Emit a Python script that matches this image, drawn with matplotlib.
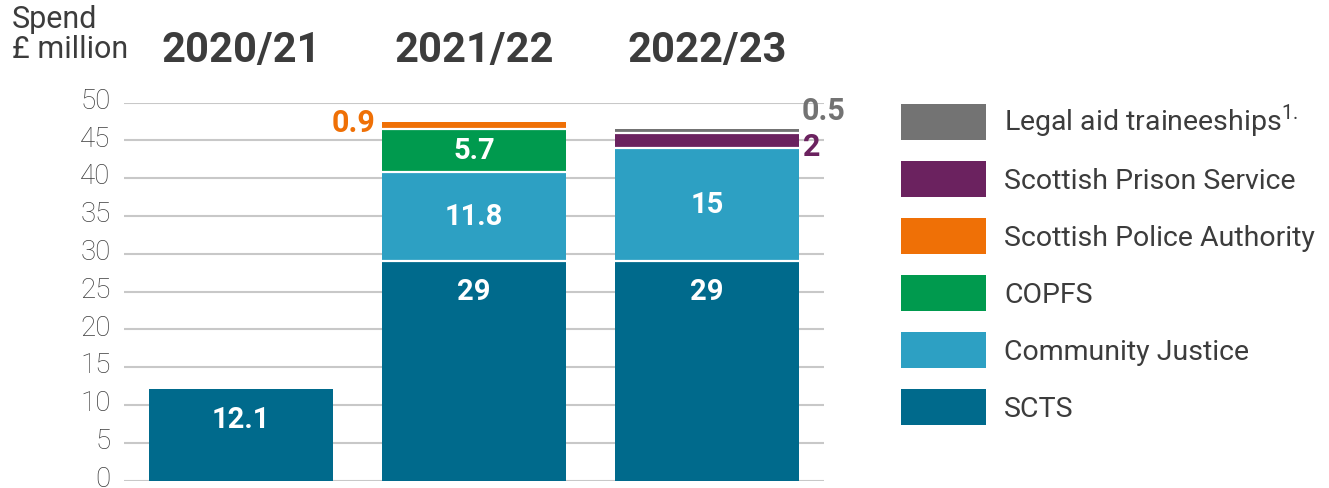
import numpy as np
import matplotlib.pyplot as plt
from matplotlib.patches import Patch
from matplotlib import transforms

# data
years = ["2020/21", "2021/22", "2022/23"]
series = ["SCTS", "Community Justice", "COPFS", "Scottish Police Authority",
          "Scottish Prison Service", "Legal aid traineeships"]
legend_labels = ["SCTS", "Community Justice", "COPFS", "Scottish Police Authority",
                 "Scottish Prison Service", r"Legal aid traineeships$^{\mathregular{1.}}$"]
scts = [12.1, 29, 29]
community_justice = [0, 11.8, 15]
copfs = [0, 5.7, 0]
police = [0, 0.9, 0]
prison = [0, 0, 2]
legal_aid = [0, 0, 0.5]
colors = ["#006a8c", "#2da0c3", "#009a4e", "#ef7006", "#6b225f", "#737373"]
yticks = [0, 5, 10, 15, 20, 25, 30, 35, 40, 45, 50]

TXT = "#3c3c3c"
plt.rcParams["font.family"] = ["Roboto", "DejaVu Sans"]

W, H = 1329, 488
fig = plt.figure(figsize=(W / 100, H / 100), dpi=100)
ax = fig.add_axes([124.5 / W, 7.5 / H, 699 / W, 378 / H])

x = np.arange(len(years))
data = [scts, community_justice, copfs, police, prison, legal_aid]
bottom = np.zeros(len(years))
tops = []
width = 0.79
for vals, col in zip(data, colors):
    vals = np.array(vals, dtype=float)
    m = vals > 0
    ax.bar(x[m], vals[m], bottom=bottom[m], width=width, color=col,
           linewidth=0, zorder=3)
    tops.append((bottom.copy(), vals.copy()))
    bottom = bottom + vals

# thin white gaps between stacked segments
for b, v in tops[1:]:
    m = v > 0
    ax.hlines(b[m], x[m] - width / 2, x[m] + width / 2, color="white",
              linewidth=1.6, zorder=4)

ax.set_xlim(-0.5, 2.5)
ax.set_ylim(0, 50)
ax.set_yticks(yticks)
ax.set_xticks([])
ax.yaxis.grid(True, color="#c8c8c8", linewidth=1.5, zorder=0)
ax.set_axisbelow(True)
for s in ax.spines.values():
    s.set_visible(False)
ax.tick_params(axis="y", length=0, pad=10, labelsize=20, labelcolor=TXT)
shift = transforms.ScaledTranslation(0, 3 / 72, fig.dpi_scale_trans)
for lbl in ax.get_yticklabels():
    lbl.set_fontweight("light")
    lbl.set_transform(lbl.get_transform() + shift)

# labels inside the bars
b0, v0 = tops[0]
for i in range(len(years)):
    ax.annotate(f"{scts[i]:g}", (x[i], b0[i] + v0[i]), xytext=(0, -22),
                textcoords="offset points", ha="center", va="center",
                color="white", fontsize=21, fontweight="bold", zorder=5)
for k in (1, 2):
    b, v = tops[k]
    for i in range(len(years)):
        if v[i] > 0:
            ax.text(x[i], b[i] + v[i] / 2, f"{v[i]:g}", ha="center", va="center",
                    color="white", fontsize=21, fontweight="bold", zorder=5)

# small segments labelled outside
b, v = tops[3]
ax.annotate(f"{v[1]:g}", (x[1] - width / 2, b[1] + v[1] / 2), xytext=(-5, 2),
            textcoords="offset points", ha="right", va="center",
            color=colors[3], fontsize=22, fontweight="bold")
b, v = tops[4]
ax.annotate(f"{v[2]:g}", (x[2] + width / 2, b[2] + v[2] / 2), xytext=(3, -5),
            textcoords="offset points", ha="left", va="center",
            color=colors[4], fontsize=22, fontweight="bold")
b, v = tops[5]
ax.annotate(f"{v[2]:g}", (x[2] + width / 2, b[2] + v[2] / 2), xytext=(2, 14),
            textcoords="offset points", ha="left", va="center",
            color=colors[5], fontsize=22, fontweight="bold")

# year headers
trans = transforms.blended_transform_factory(ax.transData, ax.transAxes)
for i, yr in enumerate(years):
    ax.text(x[i], 1.138, yr, transform=trans, ha="center", va="center",
            fontsize=30, fontweight="bold", color=TXT)

fig.text(12 / W, 1 - 5 / H, "Spend\n£ million", ha="left", va="top",
         fontsize=22, color=TXT, linespacing=1.05)

# legend
fs = 20.5
em = fs * 100 / 72
hh = (36 / em - 0.245) / 0.65
handles = [Patch(facecolor=c, edgecolor="none") for c in colors][::-1]
leg = fig.legend(handles, legend_labels[::-1], loc="upper left",
                 bbox_to_anchor=(901 / W, 1 - 103 / H), borderaxespad=0,
                 borderpad=0, frameon=False, fontsize=fs,
                 handlelength=85 / em, handleheight=hh,
                 labelspacing=21 / em, handletextpad=18 / em)
for t in leg.get_texts():
    t.set_color(TXT)

fig.savefig("out.png", dpi=100)
